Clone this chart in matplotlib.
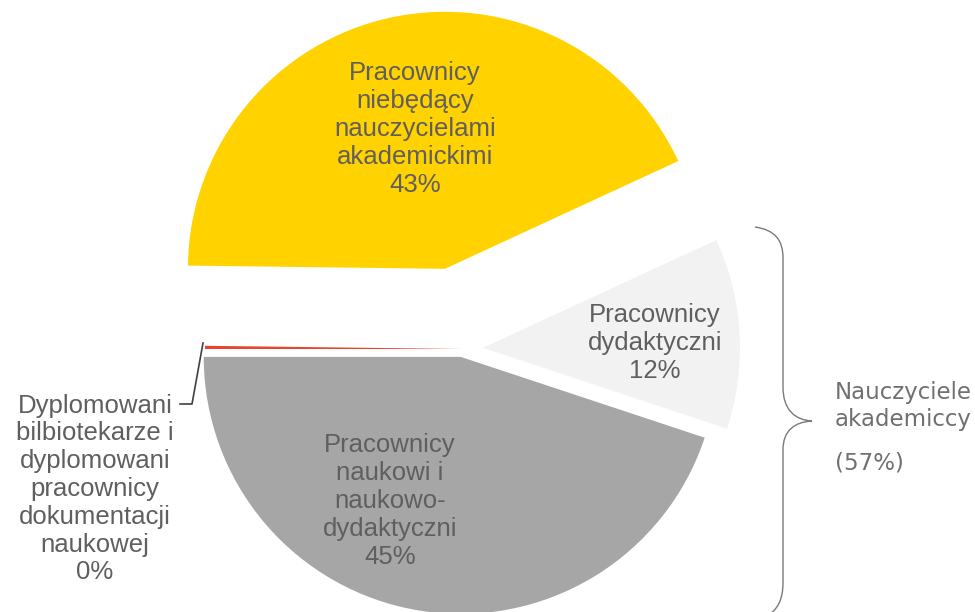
import matplotlib.pyplot as plt
from matplotlib.path import Path
from matplotlib.patches import PathPatch

# slices, counter-clockwise from the left edge
shares = [45, 12, 43, 0.2]
percent_labels = ["45%", "12%", "43%", "0%"]
names = [
    "Pracownicy\nnaukowi i\nnaukowo-\ndydaktyczni",
    "Pracownicy\ndydaktyczni",
    "Pracownicy\nniebędący\nnauczycielami\nakademickimi",
    "Dyplomowani\nbilbiotekarze i\ndyplomowani\npracownicy\ndokumentacji\nnaukowej",
]
colors = ["#A6A6A6", "#F2F2F2", "#FFD200", "#E8452F"]
group_label = "Nauczyciele\nakademiccy"
group_share = "(57%)"

W, H = 975, 612
fig = plt.figure(figsize=(W / 100, H / 100), dpi=100)
ax = fig.add_axes([0, 0, 1, 1])

def py(y):
    return H - y

R = 257
# explode is in data units (pixels here)
explode = [8, 21, 82, 0]
ax.pie(shares, colors=colors, explode=explode, startangle=180,
       counterclock=True, radius=R, center=(462, py(349)),
       wedgeprops=dict(linewidth=0))
ax.set_xlim(0, W)
ax.set_ylim(0, H)
ax.set_aspect("equal")
ax.axis("off")

txt = "#5f5f5f"
font = dict(family="Liberation Sans", fontsize=18.5, color=txt,
            ha="center", va="center", linespacing=1.2)

label_pos = [(390, 501), (655, 343), (415, 129), (95, 489)]
for name, pct, (x, y) in zip(names, percent_labels, label_pos):
    ax.text(x, py(y), name + "\n" + pct, **font)

# leader line for the tiny slice
ax.plot([203, 192, 180], [py(343), py(404), py(404)], color="#404040", lw=1.2)

# curly brace grouping the academic staff
verts = [
    (755, py(227)), (775, py(230)), (783, py(240)), (783, py(258)),
    (783, py(387)),
    (783, py(410)), (795, py(420)), (812, py(421)),
    (795, py(422)), (783, py(430)), (783, py(450)),
    (783, py(583)),
    (783, py(600)), (777, py(610)), (768, py(615)),
]
codes = [Path.MOVETO, Path.CURVE4, Path.CURVE4, Path.CURVE4,
         Path.LINETO,
         Path.CURVE4, Path.CURVE4, Path.CURVE4,
         Path.CURVE4, Path.CURVE4, Path.CURVE4,
         Path.LINETO,
         Path.CURVE4, Path.CURVE4, Path.CURVE4]
ax.add_patch(PathPatch(Path(verts, codes), facecolor="none",
                       edgecolor="#7a7a7a", lw=1.0))

ax.text(835, py(406), group_label, family="DejaVu Sans", fontsize=16.5,
        color="#707070", ha="left", va="center", linespacing=1.2)
ax.text(835, py(463), group_share, family="DejaVu Sans", fontsize=16.5,
        color="#707070", ha="left", va="center")

fig.savefig("out.png", dpi=100)
